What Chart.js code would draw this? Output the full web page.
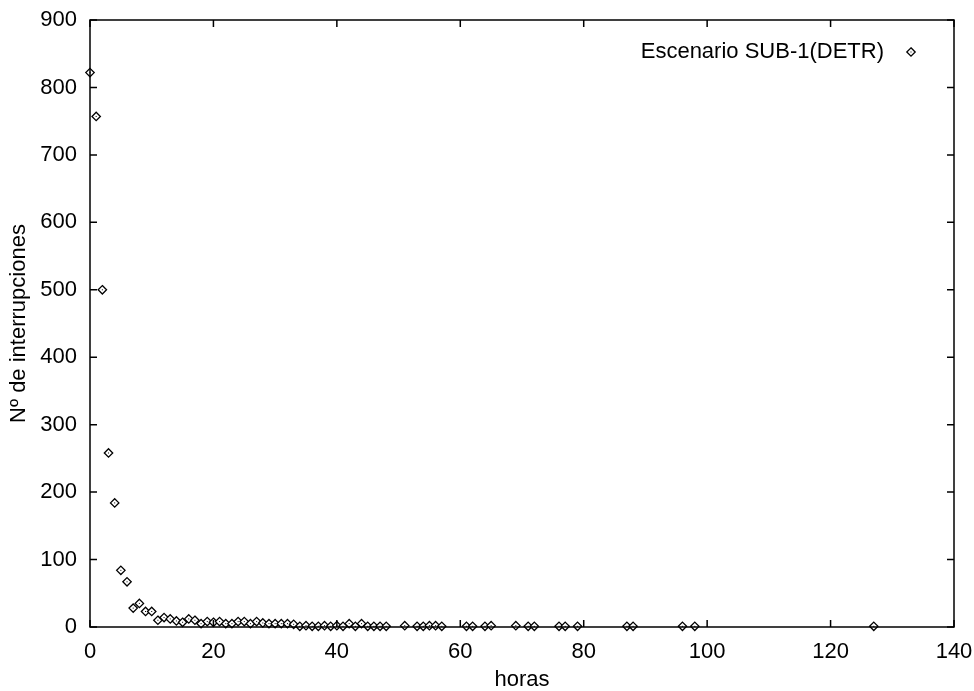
<!DOCTYPE html>
<html>
<head>
<meta charset="utf-8">
<script src="https://cdn.jsdelivr.net/npm/chart.js@4/dist/chart.umd.min.js"></script>
<style>
  body { margin: 0; background: #fff; }
</style>
</head>
<body>
<canvas id="interrupciones" width="974" height="691"></canvas>
<script>

var seriesLabel = "Escenario SUB-1(DETR)";
var hours = [0, 1, 2, 3, 4, 5, 6, 7, 8, 9, 10, 11, 12, 13, 14, 15, 16, 17, 18, 19,
    20, 21, 22, 23, 24, 25, 26, 27, 28, 29, 30, 31, 32, 33, 34, 35, 36, 37, 38, 39,
    40, 41, 42, 43, 44, 45, 46, 47, 48, 51, 53, 54, 55, 56, 57, 61, 62, 64, 65, 69,
    71, 72, 76, 77, 79, 87, 88, 96, 98, 127];
var counts = [822, 757, 500, 258, 184, 84, 67, 28, 35, 23, 23, 10, 14, 12, 9, 7, 12, 10, 5, 8,
    7, 8, 5, 5, 8, 8, 5, 8, 6, 5, 5, 5, 5, 4, 1, 2, 1, 1, 2, 1,
    2, 1, 5, 1, 5, 1, 1, 1, 1, 2, 1, 1, 2, 2, 1, 1, 1, 1, 2, 2,
    1, 1, 1, 1, 1, 1, 1, 1, 1, 1];
var xTicks = [0, 20, 40, 60, 80, 100, 120, 140];
var yTicks = [0, 100, 200, 300, 400, 500, 600, 700, 800, 900];

var fontFamily = "'Liberation Sans', Arial, sans-serif";

var points = [];
for (var i = 0; i < hours.length; i++) {
    points.push({ x: hours[i], y: counts[i] });
}

function diamond(ctx, x, y, r) {
    ctx.beginPath();
    ctx.moveTo(x, y - r);
    ctx.lineTo(x + r, y);
    ctx.lineTo(x, y + r);
    ctx.lineTo(x - r, y);
    ctx.closePath();
    ctx.fillStyle = "#fff";
    ctx.fill();
    ctx.stroke();
    ctx.fillStyle = "#000";
    ctx.fillRect(x - 0.5, y - 0.5, 1, 1);
}

// gnuplot style frame: box round the plot, ticks pointing inwards on all sides
var framePlugin = {
    id: "frame",
    afterDatasetsDraw: function(chart) {
        var ctx = chart.ctx;
        var area = chart.chartArea;
        var xs = chart.scales.x;
        var ys = chart.scales.y;
        var tick = 7;

        ctx.save();
        ctx.strokeStyle = "#000";
        ctx.lineWidth = 1.3;
        var meta = chart.getDatasetMeta(0);
        meta.data.forEach(function(el) {
            diamond(ctx, el.x, el.y, 4.2);
        });

        ctx.lineWidth = 1.5;
        ctx.strokeRect(area.left, area.top, area.right - area.left, area.bottom - area.top);
        ctx.beginPath();
        xTicks.forEach(function(v) {
            var px = xs.getPixelForValue(v);
            ctx.moveTo(px, area.bottom);
            ctx.lineTo(px, area.bottom - tick);
            ctx.moveTo(px, area.top);
            ctx.lineTo(px, area.top + tick);
        });
        yTicks.forEach(function(v) {
            var py = ys.getPixelForValue(v);
            ctx.moveTo(area.left, py);
            ctx.lineTo(area.left + tick, py);
            ctx.moveTo(area.right, py);
            ctx.lineTo(area.right - tick, py);
        });
        ctx.stroke();

        // key, top right inside the frame
        ctx.font = "22px " + fontFamily;
        ctx.fillStyle = "#000";
        ctx.textAlign = "right";
        ctx.textBaseline = "middle";
        ctx.fillText(seriesLabel, 884, 52);
        ctx.lineWidth = 1.3;
        diamond(ctx, 911, 52, 4.2);
        ctx.restore();
    }
};

var canvasElement = document.getElementById("interrupciones");

var myChart = new Chart(canvasElement, {
    type: "scatter",
    data: {
        datasets: [{
            label: seriesLabel,
            data: points,
            pointRadius: 0,
            pointHoverRadius: 0
        }]
    },
    options: {
        responsive: false,
        animation: false,
        devicePixelRatio: 1,
        layout: { padding: { top: 20, right: 20, left: 0, bottom: 0 } },
        plugins: {
            legend: { display: false },
            tooltip: { enabled: false }
        },
        scales: {
            x: {
                type: "linear",
                min: 0,
                max: 140,
                afterFit: function(scale) {
                    scale.height = 64;
                    scale.paddingLeft = 0;
                    scale.paddingRight = 0;
                },
                afterBuildTicks: function(scale) {
                    scale.ticks = xTicks.map(function(v) { return { value: v }; });
                },
                grid: { display: false, drawTicks: false },
                border: { display: false },
                ticks: {
                    color: "#000",
                    padding: 12,
                    maxRotation: 0,
                    font: { family: fontFamily, size: 22 }
                },
                title: {
                    display: true,
                    text: "horas",
                    color: "#000",
                    padding: { top: 0, bottom: -2 },
                    font: { family: fontFamily, size: 22 }
                }
            },
            y: {
                type: "linear",
                min: 0,
                max: 900,
                afterFit: function(scale) {
                    scale.width = 90;
                    scale.paddingTop = 0;
                    scale.paddingBottom = 0;
                },
                afterBuildTicks: function(scale) {
                    scale.ticks = yTicks.map(function(v) { return { value: v }; });
                },
                grid: { display: false, drawTicks: false },
                border: { display: false },
                ticks: {
                    color: "#000",
                    padding: 13,
                    font: { family: fontFamily, size: 22 }
                },
                title: {
                    display: true,
                    text: "Nº de interrupciones",
                    color: "#000",
                    padding: { top: 6, bottom: 0 },
                    font: { family: fontFamily, size: 22 }
                }
            }
        }
    },
    plugins: [framePlugin]
});

</script>
</body>
</html>
